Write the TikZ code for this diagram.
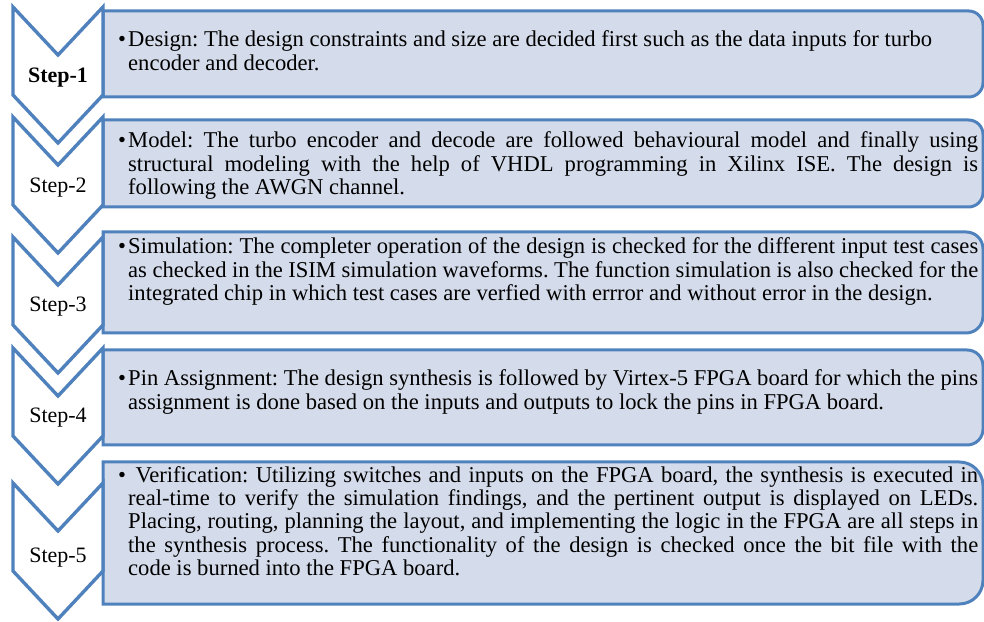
\documentclass[tikz,border=0pt]{standalone}
\usepackage{fontspec}
\setmainfont{Liberation Serif}
\definecolor{edgeblue}{RGB}{79,129,189}
\definecolor{boxfill}{RGB}{212,219,234}
\tikzset{
  boxst/.style={draw=edgeblue, line width=3pt, fill=boxfill},
  chevst/.style={draw=edgeblue, line width=3.4pt, fill=white, line join=miter},
  txt/.style={inner sep=0pt, anchor=base west, font={\fontsize{22.6}{23.4}\selectfont\frenchspacing}, text=black},
  lbl/.style={inner sep=0pt, anchor=base, font={\fontsize{22}{23.4}\selectfont}, text=black}
}
% justified / ragged lines, first (with bullet) or continuation (indented)
\newcommand{\jf}[1]{\hbox to 860pt{\makebox[10pt][l]{•}#1}}
\newcommand{\jc}[1]{\hbox to 860pt{\hskip10pt #1}}
\newcommand{\rf}[1]{\hbox{\makebox[10pt][l]{•}#1}}
\newcommand{\rc}[1]{\hbox{\hskip10pt #1}}
% box with rounded right corners: #1 top (px), #2 bottom (px)
\newcommand{\drawstepbox}[2]{%
  \pgfmathsetmacro\rr{(#2-#1)/6}%
  \draw[boxst] (103,621-#2) -- (103,621-#1) -- ({983-\rr},621-#1)
    arc[start angle=90,end angle=0,radius=\rr pt] -- (983,{621-#2+\rr})
    arc[start angle=0,end angle=-90,radius=\rr pt] -- cycle;}
% chevron: #1 top (px)
\newcommand{\drawchev}[1]{%
  \draw[chevst] (13,621-#1) -- (58,{621-#1-48}) -- (103,621-#1) -- (103,{621-#1-88})
    -- (58,{621-#1-136}) -- (13,{621-#1-88}) -- cycle;}
\begin{document}
\begin{tikzpicture}[x=1pt,y=1pt]
\useasboundingbox (0,0) rectangle (984,621);
% boxes
\drawstepbox{11}{97}
\drawstepbox{120}{207}
\drawstepbox{232}{333}
\drawstepbox{350}{445}
\drawstepbox{462}{604}
% chevrons
\drawchev{7}
\drawchev{117}
\drawchev{237}
\drawchev{348}
\drawchev{483}
% step labels
\node[lbl, font={\fontsize{22}{23.4}\selectfont\bfseries}] (s1) at (58,621-83) {Step-1};
\node[lbl] (s2) at (58,621-193) {Step-2};
\node[lbl] (s3) at (58,621-312) {Step-3};
\node[lbl] (s4) at (58,621-423) {Step-4};
\node[lbl] (s5) at (58,621-562) {Step-5};
% texts
\node[txt] (t1) at (118,621-47) {\vtop{%
  \rf{Design: The design constraints and size are decided first such as the data inputs for turbo}
  \rc{encoder and decoder.}}};
\node[txt] (t2) at (118,621-148) {\vtop{%
  \jf{Model: The turbo encoder and decode are followed behavioural model and finally using}
  \jc{structural modeling with the help of VHDL programming in Xilinx ISE. The design is}
  \rc{following the AWGN channel.}}};
\node[txt] (t3) at (118,621-254) {\vtop{%
  \jf{Simulation: The completer operation of the design is checked for the different input test cases}
  \jc{as checked in the ISIM simulation waveforms. The function simulation is also checked for the}
  \rc{integrated chip in which test cases are verfied with errror and without error in the design.}}};
\node[txt] (t4) at (118,621-386) {\vtop{%
  \jf{Pin Assignment: The design synthesis is followed by Virtex-5 FPGA board for which the pins}
  \rc{assignment is done based on the inputs and outputs to lock the pins in FPGA board.}}};
\node[txt] (t5) at (118,621-482) {\vtop{%
  \jf{\ Verification: Utilizing switches and inputs on the FPGA board, the synthesis is executed in}
  \jc{real-time to verify the simulation findings, and the pertinent output is displayed on LEDs.}
  \jc{Placing, routing, planning the layout, and implementing the logic in the FPGA are all steps in}
  \jc{the synthesis process. The functionality of the design is checked once the bit file with the}
  \rc{code is burned into the FPGA board.}}};
\end{tikzpicture}
\end{document}
